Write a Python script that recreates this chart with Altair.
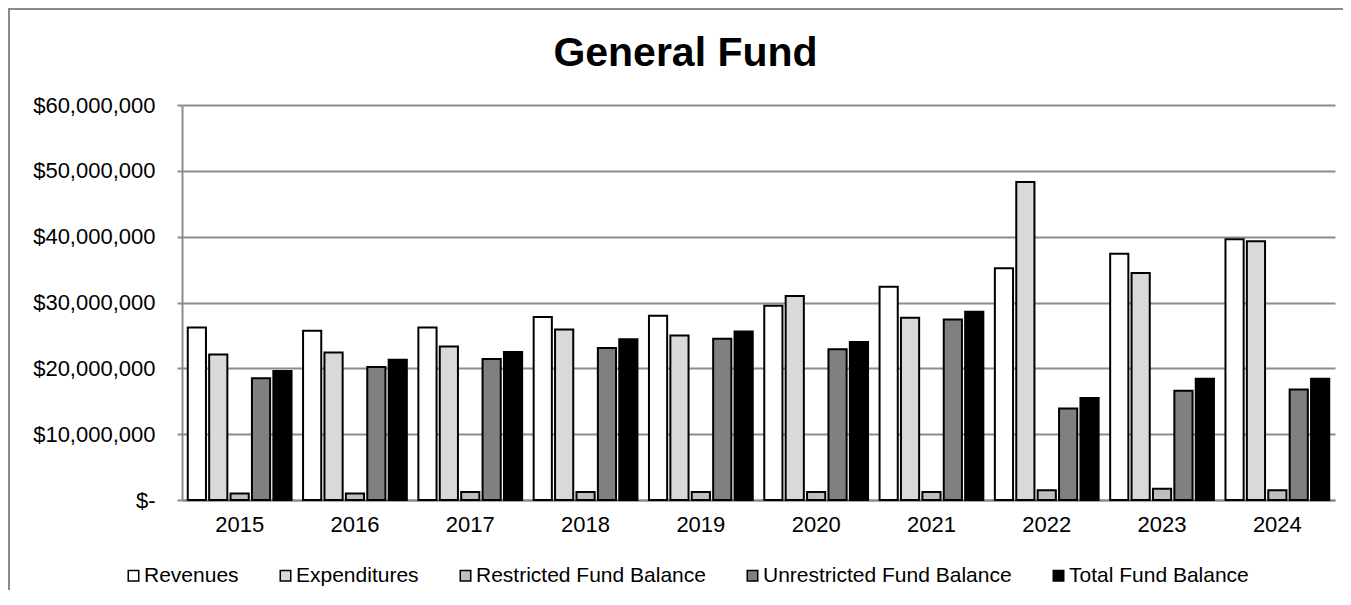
import altair as alt
import pandas as pd

years = ["2015", "2016", "2017", "2018", "2019", "2020", "2021", "2022", "2023", "2024"]
series_names = ["Revenues", "Expenditures", "Restricted Fund Balance",
                "Unrestricted Fund Balance", "Total Fund Balance"]
revenues = [26.2e6, 25.7e6, 26.2e6, 27.8e6, 28.0e6, 29.5e6, 32.4e6, 35.2e6, 37.4e6, 39.6e6]
expenditures = [22.1e6, 22.4e6, 23.3e6, 25.9e6, 25.0e6, 31.0e6, 27.7e6, 48.3e6, 34.5e6, 39.3e6]
restricted = [1.0e6, 1.0e6, 1.2e6, 1.2e6, 1.2e6, 1.2e6, 1.2e6, 1.5e6, 1.7e6, 1.5e6]
unrestricted = [18.5e6, 20.2e6, 21.4e6, 23.1e6, 24.5e6, 22.9e6, 27.4e6, 13.9e6, 16.6e6, 16.8e6]
total = [19.6e6, 21.3e6, 22.5e6, 24.4e6, 25.6e6, 24.0e6, 28.6e6, 15.5e6, 18.4e6, 18.4e6]
colors = ["#ffffff", "#d9d9d9", "#bfbfbf", "#808080", "#000000"]
y_ticks = [0, 10e6, 20e6, 30e6, 40e6, 50e6, 60e6]

rows = []
for name, vals in zip(series_names, [revenues, expenditures, restricted, unrestricted, total]):
    for yr, v in zip(years, vals):
        rows.append({"Year": yr, "Series": name, "Value": v})
df = pd.DataFrame(rows)

FONT = "Liberation Sans"
GRID = "#8c8c8c"

bars = alt.Chart(df).mark_bar(stroke="black", strokeWidth=2).encode(
    x=alt.X("Year:N", sort=years, title=None,
            scale=alt.Scale(paddingInner=0.1, paddingOuter=0.05),
            axis=alt.Axis(labelAngle=0, labelFontSize=22, labelFont=FONT, labelColor="black",
                          ticks=False, domainColor=GRID, domainWidth=2, labelPadding=14,
                          grid=False)),
    xOffset=alt.XOffset("Series:N", sort=series_names,
                        scale=alt.Scale(paddingInner=0.15, paddingOuter=0)),
    y=alt.Y("Value:Q", title=None,
            scale=alt.Scale(domain=[0, 60e6], nice=False),
            axis=alt.Axis(values=y_ticks, labelFontSize=22, labelFont=FONT, labelColor="black",
                          labelExpr="datum.value == 0 ? '$-' : '$' + format(datum.value, ',')",
                          gridColor=GRID, gridWidth=2, domainColor=GRID, domainWidth=2,
                          tickColor=GRID, tickWidth=2, tickSize=5, labelPadding=22)),
    fill=alt.Fill("Series:N", sort=series_names,
                  scale=alt.Scale(domain=series_names, range=colors),
                  legend=alt.Legend(title=None, orient="none", direction="horizontal",
                                    legendX=-59, legendY=460, symbolType="square",
                                    symbolSize=110, symbolStrokeColor="black",
                                    symbolStrokeWidth=1.5, labelFontSize=21, labelFont=FONT,
                                    labelColor="black", columnPadding=36, labelOffset=0,
                                    labelLimit=500)),
)

top_rule = alt.Chart(df).mark_rule(color="#8a8a8a", strokeWidth=2).encode(
    x=alt.value(-174), x2=alt.value(1165), y=alt.value(-96))
left_rule = alt.Chart(df).mark_rule(color="#8a8a8a", strokeWidth=2).encode(
    x=alt.value(-173), y=alt.value(-96), y2=alt.value(492))

chart = alt.layer(bars, top_rule, left_rule).properties(
    width=1153, height=395,
    autosize=alt.AutoSizeParams(type="none"),
    padding={"left": 174, "top": 97, "right": 8, "bottom": 90},
    title=alt.Title("General Fund", fontSize=41, font=FONT, fontWeight="bold",
                    color="black", anchor="middle", frame="group", dx=-73,
                    baseline="alphabetic", offset=-99),
).configure_view(stroke=None)

chart.save("out.html", embed_options={"renderer": "svg", "actions": False})
